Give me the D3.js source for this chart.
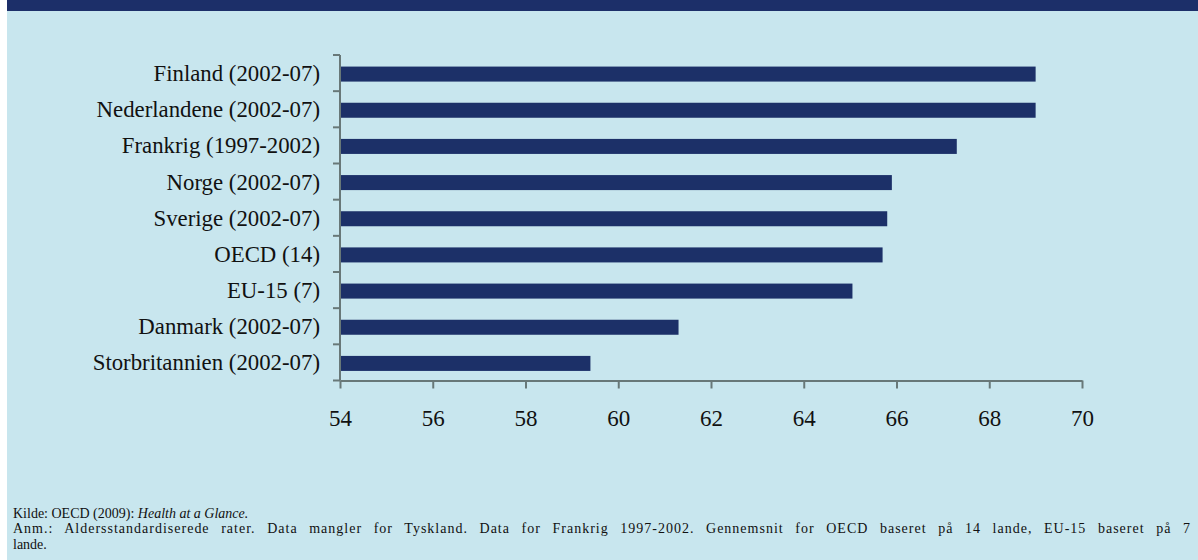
<!DOCTYPE html>
<html>
<head>
<meta charset="utf-8">
<script src="https://cdn.jsdelivr.net/npm/d3@7"></script>
<style>
  html, body { margin: 0; padding: 0; background: #ffffff; }
  svg { display: block; }
  text { font-family: "Liberation Serif", "Times New Roman", serif; fill: #111; }
</style>
</head>
<body>
<svg id="chart" width="1198" height="560"></svg>
<script>
const categories = [
  "Finland (2002-07)",
  "Nederlandene (2002-07)",
  "Frankrig (1997-2002)",
  "Norge (2002-07)",
  "Sverige (2002-07)",
  "OECD (14)",
  "EU-15 (7)",
  "Danmark (2002-07)",
  "Storbritannien (2002-07)"
];
const values = [69.0, 69.0, 67.3, 65.9, 65.8, 65.7, 65.05, 61.3, 59.4];
const xTicks = [54, 56, 58, 60, 62, 64, 66, 68, 70];
const sourceText = "Kilde: OECD (2009): ";
const sourceItalic = "Health at a Glance.";
const noteLines = [
  "Anm.: Aldersstandardiserede rater. Data mangler for Tyskland. Data for Frankrig 1997-2002. Gennemsnit for OECD baseret på 14 lande, EU-15 baseret på 7",
  "lande."
];

(function () {
const svg = d3.select("#chart");
const W = 1198, H = 560;

// background
svg.append("rect").attr("x", 7).attr("y", 0).attr("width", W - 7).attr("height", H).attr("fill", "#c8e6ee");
svg.append("rect").attr("x", 7).attr("y", 0).attr("width", W - 7).attr("height", 11).attr("fill", "#1c2f69");

const pLeft = 340, pRight = 1082, pTop = 55, pBottom = 380.5;
const x = d3.scaleLinear().domain([54, 70]).range([pLeft, pRight]);
const y = d3.scaleBand().domain(categories).range([pTop, pBottom]).paddingInner(0.585).paddingOuter(0.2925);

const axisColor = "#687878";

// bars
svg.append("g").selectAll("rect").data(categories).join("rect")
  .attr("x", x(54))
  .attr("y", (d) => y(d) + 1)
  .attr("width", (d, i) => x(values[i]) - x(54))
  .attr("height", y.bandwidth())
  .attr("fill", "#1c3068");

// y axis line and ticks at category boundaries
const step = (pBottom - pTop) / categories.length;
const yb = d3.range(categories.length + 1).map(i => pTop + i * step);
svg.append("line").attr("x1", pLeft).attr("x2", pLeft).attr("y1", pTop).attr("y2", pBottom)
  .attr("stroke", axisColor).attr("stroke-width", 2);
svg.append("g").selectAll("line").data(yb).join("line")
  .attr("x1", pLeft - 7).attr("x2", pLeft).attr("y1", d => d).attr("y2", d => d)
  .attr("stroke", axisColor).attr("stroke-width", 2);

// category labels
svg.append("g").selectAll("text").data(categories).join("text")
  .attr("x", 320)
  .attr("y", (d, i) => pTop + (i + 0.5) * step)
  .attr("dy", "0.35em")
  .attr("text-anchor", "end")
  .attr("font-size", "22.8px")
  .text(d => d);

// x axis
const xAxis = d3.axisBottom(x).tickValues(xTicks).tickSize(8).tickPadding(21).tickSizeOuter(0);
const gx = svg.append("g").attr("transform", `translate(0,${pBottom})`).call(xAxis);
gx.select(".domain").attr("stroke", axisColor).attr("stroke-width", 2);
gx.selectAll(".tick line").attr("stroke", axisColor).attr("stroke-width", 2);
gx.selectAll(".tick text")
  .attr("font-family", '"Liberation Serif", "Times New Roman", serif')
  .attr("font-size", "23px")
  .attr("fill", "#111");

// footer
const fx = 13, fs = "14px", targetW = 1177;
const src = svg.append("text").attr("x", fx).attr("y", 517.5).attr("font-size", fs);
src.append("tspan").text(sourceText);
src.append("tspan").attr("font-style", "italic").text(sourceItalic);

// first note line justified to the right margin
const line1 = svg.append("text").attr("x", fx).attr("y", 533).attr("font-size", fs).text(noteLines[0]);
const natural = line1.node().getComputedTextLength();
const nSpaces = noteLines[0].split(" ").length - 1;
const ws = 0.5 * (targetW - natural) / nSpaces;
line1.style("word-spacing", ws + "px");
line1.attr("textLength", targetW).attr("lengthAdjust", "spacing");
svg.append("text").attr("x", fx).attr("y", 548.7).attr("font-size", fs).text(noteLines[1]);
})();
</script>
</body>
</html>
